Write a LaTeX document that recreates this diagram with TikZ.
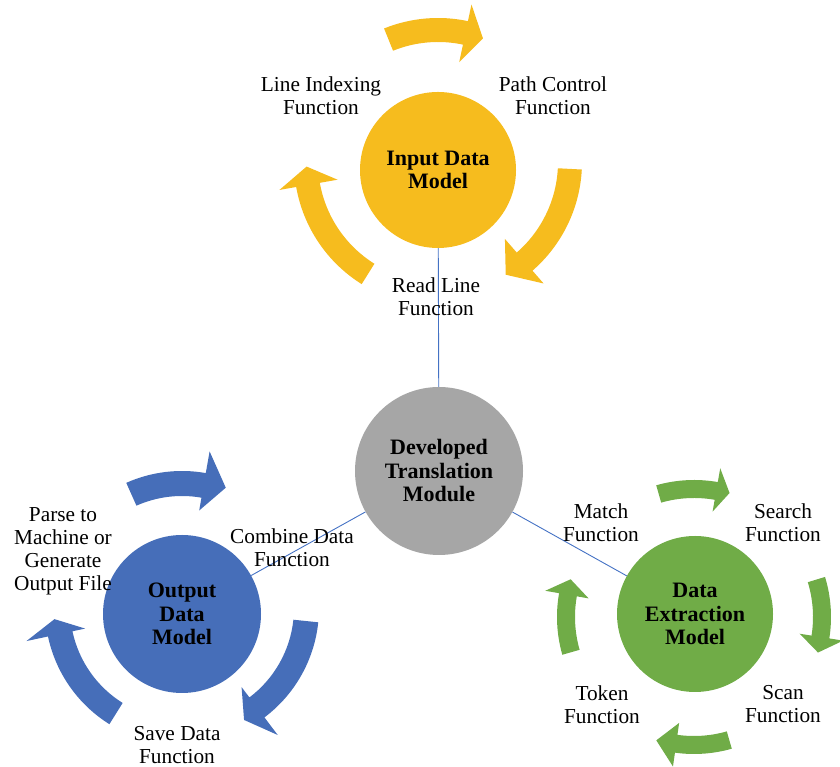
\documentclass[tikz,border=0pt]{standalone}
\usepackage{fontspec}
\setmainfont{Liberation Serif}
\definecolor{ygold}{RGB}{246,188,30}
\definecolor{oblue}{RGB}{70,110,185}
\definecolor{ogreen}{RGB}{112,172,71}
\definecolor{ogray}{RGB}{166,166,166}
\definecolor{lineblue}{RGB}{68,114,196}
\newcommand{\carrow}[4]{\fill[#1] (#2:\Rout) arc[start angle=#2, end angle=#3, radius=\Rout] -- (#3:\Hout) -- (#4:\Rmid) -- (#3:\Hin) -- (#3:\Rin) arc[start angle=#3, end angle=#2, radius=\Rin] -- cycle;}
\tikzset{
  lbl/.style={align=center, font=\fontsize{21.3}{23}\selectfont, inner sep=0pt},
  ctr/.style={circle, inner sep=0pt, align=center, font=\bfseries\fontsize{22}{23.5}\selectfont},
  conn/.style={draw=lineblue, line width=0.9pt}
}
\begin{document}
\begin{tikzpicture}[x=1pt,y=1pt]
\useasboundingbox (0,0) rectangle (840,767);
% yellow cycle arrows
\begin{scope}[shift={(438,605)}]
\def\Rin{120}\def\Rout{144}\def\Hin{102}\def\Hout{161}\def\Rmid{131.5}
\carrow{ygold}{112}{78}{70}
\carrow{ygold}{-3}{-49}{-59}
\carrow{ygold}{238}{190}{182}
\end{scope}
% blue cycle arrows
\begin{scope}[shift={(182,159)}]
\def\Rin{112}\def\Rout{137}\def\Hin{99}\def\Hout{159}\def\Rmid{128}
\carrow{oblue}{114}{80}{70}
\carrow{oblue}{-6}{-53}{-61}
\carrow{oblue}{238}{192}{185}
\end{scope}
% green cycle arrows
\begin{scope}[shift={(694,150)}]
\def\Rin{119}\def\Rout{137}\def\Hin{107}\def\Hout{151}\def\Rmid{129}
\carrow{ogreen}{106}{80}{74}
\carrow{ogreen}{17}{-9}{-16}
\carrow{ogreen}{-74}{-98}{-107}
\carrow{ogreen}{196}{170}{163}
\end{scope}
% circles
\node[ctr, fill=ygold, minimum size=156] (inp) at (438,597) {Input Data\\Model};
\node[ctr, fill=ogray, minimum size=168] (dev) at (439,296) {Developed\\Translation\\Module};
\node[ctr, fill=oblue, minimum size=158] (out) at (182,153) {Output\\Data\\Model};
\node[ctr, fill=ogreen, minimum size=156] (ext) at (695,153) {Data\\Extraction\\Model};
% connectors
\draw[conn] (inp) -- (dev);
\draw[conn] (dev) -- (out);
\draw[conn] (dev) -- (ext);
% labels yellow
\node[lbl] (li) at (321,671) {Line Indexing\\Function};
\node[lbl] (pc) at (553,671) {Path Control\\Function};
\node[lbl] (rl) at (436,470.5) {Read Line\\Function};
% labels blue
\node[lbl] (pm) at (63,216) {Parse to\\Machine or\\Generate\\Output File};
\node[lbl] (cd) at (292,219) {Combine Data\\Function};
\node[lbl] (sd) at (177,22) {Save Data\\Function};
% labels green
\node[lbl] (mf) at (601,244) {Match\\Function};
\node[lbl] (sf) at (783,244) {Search\\Function};
\node[lbl] (tf) at (602,62.5) {Token\\Function};
\node[lbl] (sc) at (783,62.5) {Scan\\Function};
\end{tikzpicture}
\end{document}
